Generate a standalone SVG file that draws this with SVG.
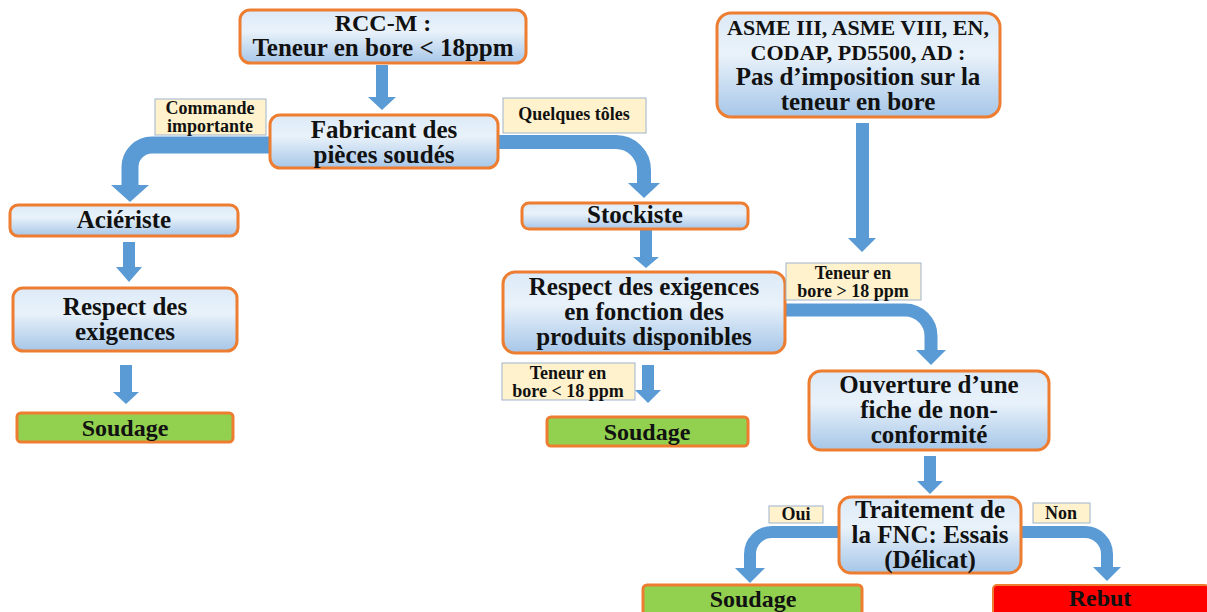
<svg xmlns="http://www.w3.org/2000/svg" width="1207" height="612" viewBox="0 0 1207 612">
<defs>
<linearGradient id="g" x1="0" y1="0" x2="0" y2="1">
<stop offset="0" stop-color="#DCEAF7"/>
<stop offset="0.4" stop-color="#E9F2FA"/>
<stop offset="1" stop-color="#A6C6E8"/>
</linearGradient>
</defs>
<style>
.box{fill:url(#g);stroke:#ED7D31;stroke-width:3}
.green{fill:#92D050;stroke:#ED7D31;stroke-width:3}
.red{fill:#FF0000;stroke:#ED7D31;stroke-width:2}
.lbl{fill:#FFF2CC;stroke:#9FB4CE;stroke-width:1}
.t{font-family:"Liberation Serif",serif;font-weight:bold;fill:#111;text-anchor:middle;font-size:25px}
.s{font-size:18px}
.m{font-size:24px}
.band{fill:none;stroke:#5B9BD5}
.ah{fill:#5B9BD5}
</style>
<rect width="1207" height="612" fill="#FFFFFF"/>

<g id="connectors">
<polygon class="ah" points="376,65 388,65 388,97 396,97 382,110 368,97 376,97"/>
<path class="band" stroke-width="17" d="M271,145 H152 A22,22 0 0 0 130,167 V186"/>
<polygon class="ah" points="111,185 149,185 130,202"/>
<path class="band" stroke-width="14" d="M497,142 H616 A28,28 0 0 1 644,170 V184"/>
<polygon class="ah" points="628,183 660,183 644,198"/>
<polygon class="ah" points="123,242 135,242 135,267 142,267 129,282 116,267 123,267"/>
<polygon class="ah" points="120,365 132,365 132,392 139,392 126,404 113,392 120,392"/>
<polygon class="ah" points="640,230 652,230 652,257 659,257 646,268 633,257 640,257"/>
<polygon class="ah" points="856,123 869,123 869,238 876,238 862,252 848,238 856,238"/>
<path class="band" stroke-width="13" d="M785,310 H905 A26,26 0 0 1 931,336 V351"/>
<polygon class="ah" points="916,350 946,350 931,365"/>
<polygon class="ah" points="642,365 654,365 654,390 661,390 648,403 635,390 642,390"/>
<polygon class="ah" points="924,456 936,456 936,481 943,481 930,494 917,481 924,481"/>
<path class="band" stroke-width="12" d="M839,532 H772 A22,22 0 0 0 750,554 V569"/>
<polygon class="ah" points="735,568 765,568 750,583"/>
<path class="band" stroke-width="12" d="M1021,532 H1085 A22,22 0 0 1 1107,554 V568"/>
<polygon class="ah" points="1093,567 1121,567 1107,581"/>
</g>

<g id="n-rccm">
<rect class="box" x="240" y="10" width="286" height="53" rx="10"/>
<text class="t m" x="383" y="31">RCC-M :</text>
<text class="t" x="383" y="56">Teneur en bore &lt; 18ppm</text>
</g>
<g id="n-fabricant">
<rect class="box" x="270" y="115" width="228" height="53" rx="10"/>
<text class="t" x="384" y="138">Fabricant des</text>
<text class="t" x="384" y="163">pièces soudés</text>
</g>
<g id="n-acieriste">
<rect class="box" x="10" y="205" width="228" height="31" rx="8"/>
<text class="t" x="124" y="228">Aciériste</text>
</g>
<g id="n-respect1">
<rect class="box" x="13" y="288" width="224" height="63" rx="10"/>
<text class="t" x="125" y="315">Respect des</text>
<text class="t" x="125" y="340">exigences</text>
</g>
<g id="n-soudage1">
<rect class="green" x="17" y="413" width="216" height="29" rx="4"/>
<text class="t m" x="125" y="436">Soudage</text>
</g>
<g id="n-stockiste">
<rect class="box" x="522" y="203" width="226" height="26" rx="7"/>
<text class="t" x="635" y="223">Stockiste</text>
</g>
<g id="n-respect2">
<rect class="box" x="503" y="272" width="282" height="81" rx="12"/>
<text class="t" x="644" y="295">Respect des exigences</text>
<text class="t" x="644" y="320">en fonction des</text>
<text class="t" x="644" y="345">produits disponibles</text>
</g>
<g id="n-soudage2">
<rect class="green" x="547" y="417" width="201" height="29" rx="4"/>
<text class="t m" x="647" y="440">Soudage</text>
</g>
<g id="n-asme">
<rect class="box" x="717" y="13" width="283" height="104" rx="14"/>
<text class="t" x="858" y="35" style="font-size:22px">ASME III, ASME VIII, EN,</text>
<text class="t" x="858" y="60" style="font-size:22px">CODAP, PD5500, AD :</text>
<text class="t" x="858" y="85">Pas d’imposition  sur la</text>
<text class="t" x="858" y="110">teneur en bore</text>
</g>
<g id="n-ouverture">
<rect class="box" x="809" y="371" width="240" height="79" rx="12"/>
<text class="t" x="929" y="393">Ouverture d’une</text>
<text class="t" x="929" y="418">fiche de non-</text>
<text class="t" x="929" y="443">conformité</text>
</g>
<g id="n-traitement">
<rect class="box" x="839" y="497" width="182" height="76" rx="12"/>
<text class="t" x="930" y="518">Traitement de</text>
<text class="t" x="930" y="543">la FNC: Essais</text>
<text class="t" x="930" y="568">(Délicat)</text>
</g>
<g id="n-soudage3">
<rect class="green" x="643" y="585" width="219" height="30" rx="4"/>
<text class="t m" x="753" y="607">Soudage</text>
</g>
<g id="n-rebut">
<rect class="red" x="993" y="585" width="216" height="30" rx="4"/>
<text class="t m" x="1100" y="606">Rebut</text>
</g>

<g id="labels">
<rect class="lbl" x="155" y="99" width="111" height="36"/>
<text class="t s" x="210" y="114">Commande</text>
<text class="t s" x="210" y="132">importante</text>
<rect class="lbl" x="503" y="98" width="143" height="35"/>
<text class="t s" x="574" y="120">Quelques tôles</text>
<rect class="lbl" x="786" y="263" width="135" height="37"/>
<text class="t s" x="853" y="279">Teneur en</text>
<text class="t s" x="853" y="297">bore &gt; 18 ppm</text>
<rect class="lbl" x="502" y="363" width="133" height="37"/>
<text class="t s" x="568" y="379">Teneur en</text>
<text class="t s" x="568" y="397">bore &lt; 18 ppm</text>
<rect class="lbl" x="769" y="506" width="54" height="17"/>
<text class="t s" x="796" y="520">Oui</text>
<rect class="lbl" x="1033" y="503" width="57" height="20"/>
<text class="t s" x="1061" y="519">Non</text>
</g>
</svg>
